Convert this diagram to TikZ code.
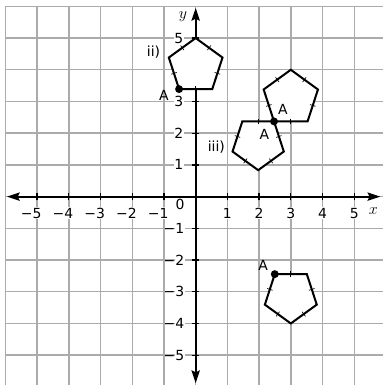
\documentclass[tikz,border=0pt]{standalone}
\usepackage{fontspec}
\setmainfont{DejaVu Sans}
\usetikzlibrary{arrows.meta,calc}

\tikzset{
  gridline/.style={black!33, line width=1.3pt},
  axis/.style={line width=1.7pt, {Stealth[length=4mm,width=2.6mm,inset=0.6mm]}-{Stealth[length=4mm,width=2.6mm,inset=0.6mm]}},
  axistick/.style={line width=1.1pt},
  numlabel/.style={fill=white, inner sep=0.5pt, font=\fontsize{12.5}{13}\selectfont},
  pent/.style={line width=1.8pt, fill=white, line join=miter},
  hatch/.style={line width=0.6pt},
  vertexdot/.style={circle, fill=black, inner sep=0pt, minimum size=2.5mm},
  tag/.style={inner sep=1pt, font=\fontsize{12.5}{13}\selectfont},
}

% name, centre, radius, angle of first corner
\newcommand\pentagonat[4]{%
  \foreach \k in {1,...,5}
    \coordinate (#1\k) at ($(#2)+({#4+72*(\k-1)}:#3)$);
  \draw[pent] (#11) -- (#12) -- (#13) -- (#14) -- (#15) -- cycle;
  \foreach \k/\j in {1/2,2/3,3/4,4/5,5/1}
    \draw[hatch] ($(#1\k)!0.5!(#1\j)!0.09cm!90:(#1\j)$) -- ($(#1\k)!0.5!(#1\j)!0.09cm!-90:(#1\j)$);
}

\begin{document}
\begin{tikzpicture}
\useasboundingbox (-6.17,-5.94) rectangle (5.88,6.20);
\draw[gridline] (-6,-6) grid (6,6);
%
\coordinate (xl) at (-5.95,0);
\coordinate (xr) at (5.82,0);
\coordinate (yb) at (0,-5.88);
\coordinate (yt) at (0,5.95);
\draw[axis] (xl) -- (xr);
\draw[axis] (yb) -- (yt);
\foreach \n in {-5,...,-1,1,2,...,5} {
  \draw[axistick] (\n,-0.12) -- (\n,0.12);
  \draw[axistick] (-0.12,\n) -- (0.12,\n);
}
\foreach \n in {1,...,5} {
  \node[numlabel] (xpos\n) at (\n,-0.52) {\n};
  \node[numlabel] (xneg\n) at (-\n,-0.52) {\llap{−}\n};
  \node[numlabel] (ypos\n) at (-0.53,\n) {\n};
  \node[numlabel] (yneg\n) at (-0.5,-\n) {\llap{−}\n};
}
\node[numlabel] (zero) at (-0.49,-0.26) {0};
\node (xlab) at (5.6,-0.46) {\Large$x$};
\node (ylab) at (-0.4,5.67) {\Large$y$};
%
\pentagonat{pii}{0,4.11}{0.89}{90}
\pentagonat{pa}{3,3.1}{0.9}{90}
\pentagonat{piii}{1.971,1.684}{0.85}{270}
\pentagonat{pb}{3,-3.14}{0.86}{270}
%
\node[vertexdot] (aii) at (pii3) {};
\node[vertexdot] (aa) at (pa3) {};
\node[vertexdot] (ab) at (pb4) {};
\node[tag] (taii) at (-1.0,3.2) {A};
\node[tag] (taa) at (2.75,2.75) {A};
\node[tag] (taiii) at (2.17,1.97) {A};
\node[tag] (tab) at (2.13,-2.16) {A};
\node[tag] (lii) at (-1.33,4.57) {ii)};
\node[tag] (liii) at (0.65,1.57) {iii)};
\end{tikzpicture}
\end{document}
